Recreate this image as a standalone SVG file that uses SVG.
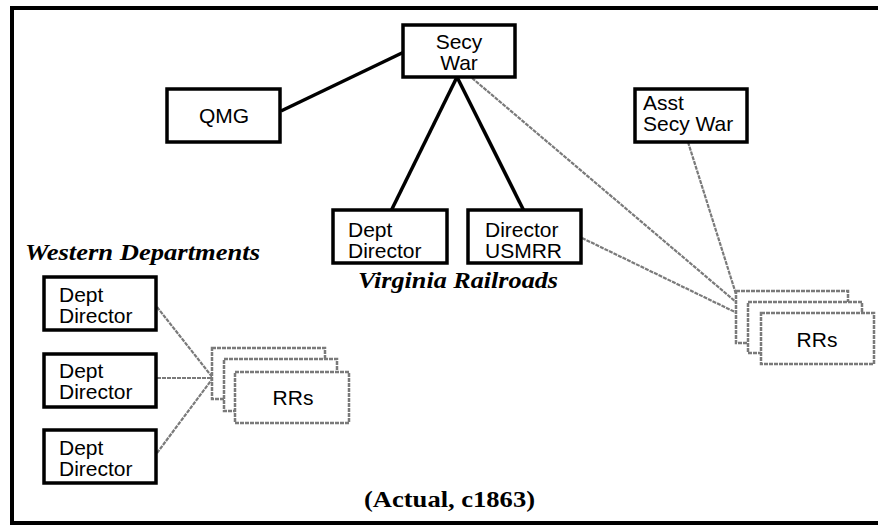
<svg xmlns="http://www.w3.org/2000/svg" width="878" height="525" viewBox="0 0 878 525">
<style>
.box{fill:#fff;stroke:#000;stroke-width:3.5}
.rr{fill:#fff;stroke:#7a7a7a;stroke-width:2.5;stroke-dasharray:4 1}
.lbl{font-family:"Liberation Sans",Arial,sans-serif;font-size:21px;fill:#000}
.c{text-anchor:middle}
.solid{stroke:#000;stroke-width:3.5;fill:none}
.gray{stroke:#7a7a7a;stroke-width:2.2;fill:none;stroke-dasharray:4 1}
.title{font-family:"Liberation Serif","Times New Roman",serif;font-weight:bold;fill:#000}
</style>
<rect width="878" height="525" fill="#fff"/>
<path d="M878 8 H12 V523 H878" fill="none" stroke="#000" stroke-width="4"/>

<g id="connectors">
<line class="solid" x1="281" y1="111" x2="404" y2="52"/>
<line class="solid" x1="457" y1="77" x2="391" y2="211"/>
<line class="solid" x1="457" y1="77" x2="524" y2="211"/>
<line class="gray" x1="472" y1="78" x2="736" y2="302"/>
<line class="gray" x1="688" y1="142" x2="736" y2="294"/>
<line class="gray" x1="582" y1="238" x2="737" y2="313"/>
<line class="gray" x1="157" y1="307" x2="213" y2="378"/>
<line class="gray" x1="157" y1="378" x2="213" y2="378"/>
<line class="gray" x1="157" y1="453" x2="213" y2="378"/>
</g>

<g id="secy-war">
<rect class="box" x="403" y="25" width="112" height="52"/>
<text class="lbl c" x="459" y="49">Secy</text>
<text class="lbl c" x="459" y="70">War</text>
</g>

<g id="qmg">
<rect class="box" x="167" y="89" width="113" height="53"/>
<text class="lbl c" x="224" y="123" font-size="22">QMG</text>
</g>

<g id="asst-secy-war">
<rect class="box" x="635" y="89" width="112" height="53"/>
<text class="lbl" x="643" y="110">Asst</text>
<text class="lbl" x="643" y="131">Secy War</text>
</g>

<g id="va-dept-director">
<rect class="box" x="333" y="210" width="114" height="53"/>
<text class="lbl" x="348" y="237">Dept</text>
<text class="lbl" x="348" y="258">Director</text>
</g>

<g id="director-usmrr">
<rect class="box" x="468" y="210" width="113" height="53"/>
<text class="lbl" x="485" y="237">Director</text>
<text class="lbl" x="485" y="258">USMRR</text>
</g>

<g id="va-rrs">
<rect class="rr" x="736" y="291" width="112" height="52"/>
<rect class="rr" x="748" y="302" width="114" height="51"/>
<rect class="rr" x="761" y="313" width="113" height="51"/>
<text class="lbl c" x="817" y="347">RRs</text>
</g>

<g id="west-dept-director-1">
<rect class="box" x="44" y="277" width="112" height="53"/>
<text class="lbl" x="59" y="302">Dept</text>
<text class="lbl" x="59" y="323">Director</text>
</g>

<g id="west-dept-director-2">
<rect class="box" x="44" y="354" width="112" height="53"/>
<text class="lbl" x="59" y="378">Dept</text>
<text class="lbl" x="59" y="399">Director</text>
</g>

<g id="west-dept-director-3">
<rect class="box" x="44" y="430" width="112" height="53"/>
<text class="lbl" x="59" y="455">Dept</text>
<text class="lbl" x="59" y="476">Director</text>
</g>

<g id="west-rrs">
<rect class="rr" x="212" y="348" width="113" height="51"/>
<rect class="rr" x="224" y="359" width="113" height="52"/>
<rect class="rr" x="235" y="372" width="114" height="51"/>
<text class="lbl c" x="293" y="405">RRs</text>
</g>

<g id="labels">
<text class="title" x="25" y="260" font-size="24" font-style="italic" textLength="235" lengthAdjust="spacingAndGlyphs">Western Departments</text>
<text class="title" x="358" y="288" font-size="24" font-style="italic" textLength="200" lengthAdjust="spacingAndGlyphs">Virginia Railroads</text>
<text class="title" x="364" y="507" font-size="23" textLength="171" lengthAdjust="spacingAndGlyphs">(Actual, c1863)</text>
</g>
</svg>
